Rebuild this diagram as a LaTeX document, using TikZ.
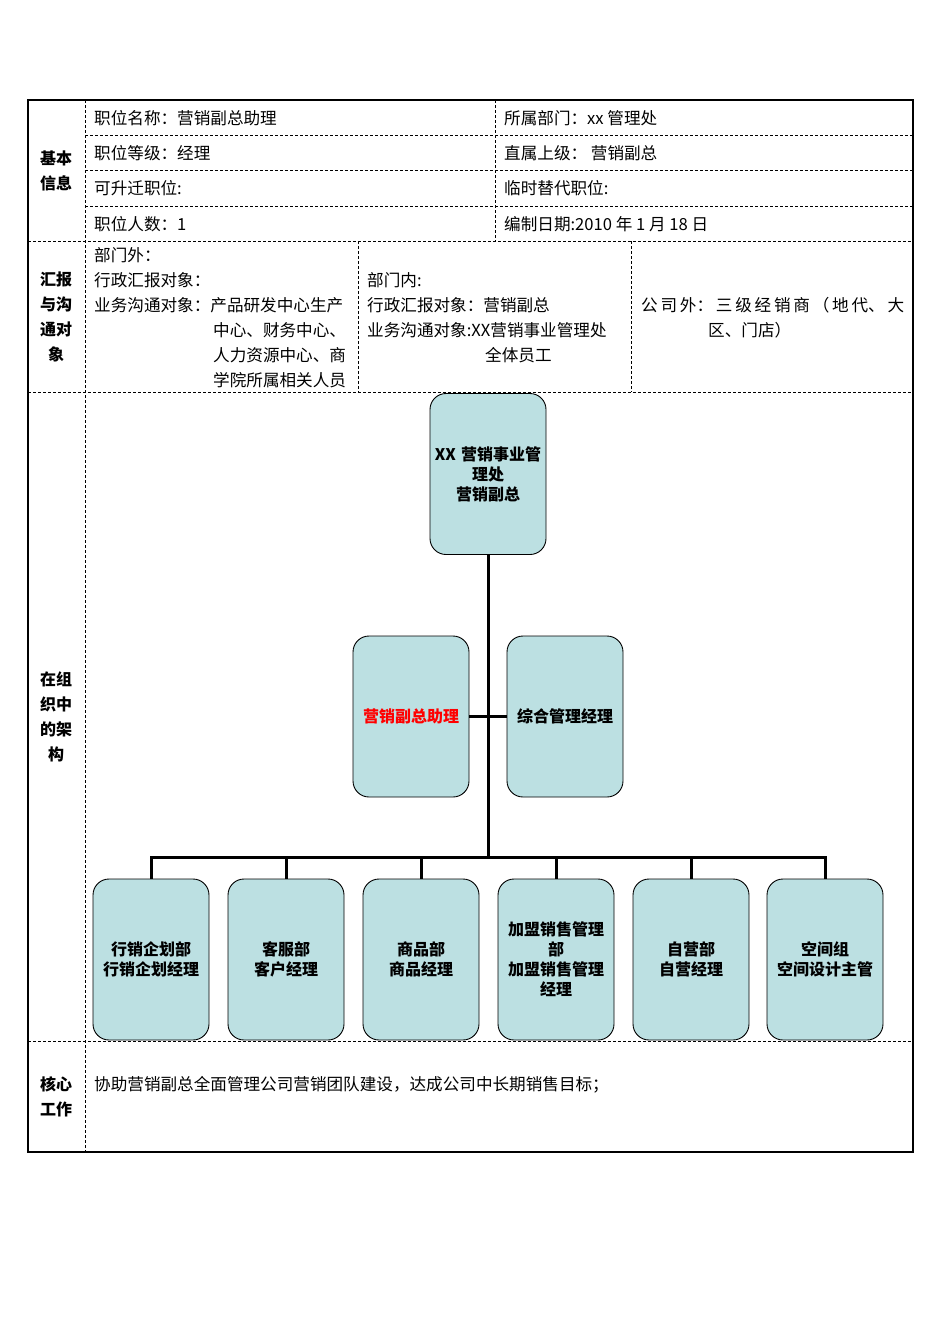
\documentclass[tikz,border=0pt]{standalone}
\usepackage{fontspec}
\setmainfont{Noto Sans CJK SC}
\begin{document}
\begin{tikzpicture}[x=1pt,y=-1pt,
  dl/.style={dashed,line width=0.8pt,dash pattern=on 3pt off 2pt},
  tx/.style={anchor=west,inner sep=0pt,font=\fontsize{16.6}{17}\selectfont},
  lab/.style={align=center,inner sep=0pt,font=\fontsize{16}{25}\selectfont\bfseries},
  org/.style={draw,line width=0.9pt,fill=orgfill,rounded corners=16pt,minimum width=116pt,minimum height=161pt,align=center,inner sep=2pt,text width=112pt,font=\fontsize{16}{20}\selectfont\bfseries},
  con/.style={line width=3pt}]
\definecolor{orgfill}{HTML}{BCE0E2}
\useasboundingbox (0,0) rectangle (950,1344);
% inner dashed lines
\draw[dl] (85,100)--(85,1152);
\draw[dl] (85,135)--(913,135) (85,170)--(913,170) (85,206)--(913,206);
\draw[dl] (28,241)--(913,241) (28,392)--(913,392) (28,1041)--(913,1041);
\draw[dl] (495,100)--(495,241) (358,241)--(358,392) (631,241)--(631,392);
\draw[line width=1.6pt] (28,100) rectangle (913,1152);
% left labels
\node[lab] (l1) at (56,171) {基本\\信息};
\node[lab] (l2) at (56,317) {汇报\\与沟\\通对\\象};
\node[lab] (l3) at (56,717) {在组\\织中\\的架\\构};
\node[lab] (l4) at (56,1097) {核心\\工作};
% basic info
\node[tx] (a1) at (94,118) {职位名称：营销副总助理};
\node[tx] (a2) at (94,153) {职位等级：经理};
\node[tx] (a3) at (94,188) {可升迁职位:};
\node[tx] (a4) at (94,224) {职位人数：1};
\node[tx] (b1) at (504,118) {所属部门：xx 管理处};
\node[tx] (b2) at (504,153) {直属上级：\ 营销副总};
\node[tx] (b3) at (504,188) {临时替代职位:};
\node[tx] (b4) at (504,224) {编制日期:2010 年 1 月 18 日};
% report
\node[tx] (r1) at (94,255) {部门外：};
\node[tx] (r2) at (94,280) {行政汇报对象：};
\node[tx] (r3) at (94,305) {业务沟通对象：产品研发中心生产};
\node[tx] (r4) at (213,330) {中心、财务中心、};
\node[tx] (r5) at (213,355) {人力资源中心、商};
\node[tx] (r6) at (213,380) {学院所属相关人员};
\node[tx] (s1) at (367,280) {部门内:};
\node[tx] (s2) at (367,305) {行政汇报对象：营销副总};
\node[tx] (s3) at (367,330) {业务沟通对象:XX营销事业管理处};
\node[tx] (s4) at (485,355) {全体员工};
\node[tx] (t1) at (641,305) {\makebox[263pt][s]{公\hfill 司\hfill 外：\hfill 三\hfill 级\hfill 经\hfill 销\hfill 商\hfill （\hfill 地\hfill 代、\hfill 大}};
\node[tx] (t2) at (708,330) {区、门店）};
\node[tx] (c1) at (94,1085) {协助营销副总全面管理公司营销团队建设，达成公司中长期销售目标；};
% org chart
\node[org] (top) at (488,474) {XX 营销事业管\\理处\\营销副总};
\node[org,text=red] (m1) at (411,716.5) {营销副总助理};
\node[org] (m2) at (565,716.5) {综合管理经理};
\coordinate (j) at (488,857);
\node[org] (o1) at (151,959.5) {行销企划部\\行销企划经理};
\node[org] (o2) at (286,959.5) {客服部\\客户经理};
\node[org] (o3) at (421,959.5) {商品部\\商品经理};
\node[org] (o4) at (556,959.5) {加盟销售管理\\部\\加盟销售管理\\经理};
\node[org] (o5) at (691,959.5) {自营部\\自营经理};
\node[org] (o6) at (825,959.5) {空间组\\空间设计主管};
\draw[con] (top.south)--(j);
\draw[con] (m1.east)--(m2.west);
\draw[con] (o1.north)--(o1.north|-j)--(o6.north|-j)--(o6.north);
\foreach \n in {o2,o3,o4,o5}{\draw[con] (\n.north)--(\n.north|-j);}
\end{tikzpicture}
\end{document}
